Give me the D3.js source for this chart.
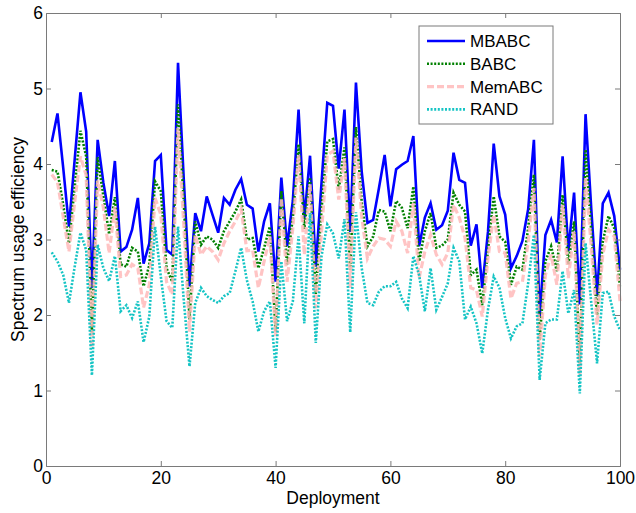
<!DOCTYPE html>
<html>
<head>
<meta charset="utf-8">
<script src="https://cdn.jsdelivr.net/npm/d3@7"></script>
<style>
  html, body { margin: 0; padding: 0; background: #fff; }
  svg text { font-family: "Liberation Sans", Arial, sans-serif; }
</style>
</head>
<body>
<svg id="chart" width="636" height="513"></svg>
<script>
// Spectrum usage efficiency per deployment for four algorithms
const deployments = d3.range(1, 101);

const mbabc = [4.29,4.67,3.95,3.17,4.06,4.95,4.43,2.36,4.32,3.75,
  3.31,4.04,2.84,2.90,3.13,3.55,2.68,2.95,4.04,4.12,
  2.86,2.80,5.34,3.8,2.38,3.35,3.11,3.57,3.33,3.09,
  3.55,3.46,3.66,3.80,3.46,3.41,2.84,3.24,3.48,2.44,
  3.82,2.91,3.51,4.72,3.27,4.11,2.64,3.75,4.81,4.77,
  3.94,4.72,3.1,5.08,3.9,3.22,3.26,3.68,4.12,3.44,
  3.93,3.99,4.04,4.37,2.91,3.29,3.48,3.13,3.19,3.38,
  4.15,3.79,3.75,2.92,3.2,2.36,3.1,4.27,3.57,3.33,
  2.62,2.78,2.98,3.40,4.32,1.98,3.06,3.26,2.96,4.10,
  2.85,3.62,2.14,4.66,3.4,2.25,3.48,3.62,3.31,2.60];

const babc = [3.92,3.90,3.46,2.95,3.7,4.44,4.10,1.77,4.09,3.57,
  3.07,3.56,2.67,2.64,2.89,2.84,2.38,2.66,3.77,3.64,
  2.62,2.44,4.79,3.5,1.94,3.24,2.93,3.04,3.0,2.89,
  3.11,3.24,3.37,3.53,3.0,3.02,2.62,2.89,3.17,1.78,
  3.64,2.67,3.29,4.26,3.14,3.82,2.28,3.4,4.30,4.33,
  3.66,4.22,2.6,4.49,3.5,2.91,3.04,3.39,3.37,3.11,
  3.51,3.42,3.15,3.70,2.71,3.11,3.35,2.89,2.92,3.0,
  3.62,3.46,3.37,2.53,2.60,2.13,2.86,3.57,3.04,2.97,
  2.40,2.64,2.60,3.15,3.86,1.67,2.71,2.91,2.58,3.59,
  2.67,3.24,1.36,4.19,3.1,2.0,2.97,3.31,3.15,2.36];

const memabc = [3.86,3.76,3.3,2.84,3.5,4.10,3.85,1.56,3.78,3.42,
  2.82,3.43,2.51,2.53,2.67,2.62,2.1,2.40,3.55,3.33,
  2.44,2.27,4.48,3.2,1.78,3.06,2.80,2.91,2.84,2.73,
  2.95,3.11,3.24,3.40,2.85,2.86,2.36,2.71,3.04,1.72,
  3.55,2.44,3.15,4.12,2.80,3.73,2.09,3.1,4.12,4.17,
  3.53,4.08,2.36,4.35,3.3,2.75,2.91,3.02,3.0,2.91,
  3.24,3.11,2.82,3.48,2.49,2.84,3.06,2.80,2.67,2.82,
  3.46,3.29,3.02,2.36,2.33,1.98,2.75,3.33,2.84,2.82,
  2.22,2.42,2.44,2.97,3.68,1.45,2.53,2.80,2.40,3.46,
  2.49,3.11,1.2,3.82,2.9,1.87,2.80,3.13,3.04,2.18];

const rand = [2.83,2.71,2.53,2.16,2.64,3.09,2.86,1.20,2.93,2.62,
  2.45,2.78,2.05,2.13,1.96,2.18,1.64,1.98,3.17,2.51,
  1.92,1.83,3.17,2.2,1.32,2.16,2.36,2.25,2.20,2.16,
  2.25,2.29,2.58,2.89,2.46,2.18,1.78,2.05,2.18,1.30,
  2.71,1.92,2.18,3.04,1.89,3.35,1.63,2.78,3.2,3.08,
  2.75,3.27,1.77,3.36,2.62,2.16,2.13,2.31,2.38,2.38,
  2.44,2.22,2.09,2.78,2.53,2.05,2.62,2.07,2.24,2.42,
  2.89,2.71,1.94,2.11,1.89,1.49,2.07,2.51,2.36,1.96,
  1.69,1.85,1.89,2.42,3.06,1.14,1.89,1.94,1.94,2.58,
  2.02,2.33,0.96,2.95,2.16,1.36,2.29,2.31,1.98,1.80];

const seriesNames = ["MBABC", "BABC", "MemABC", "RAND"];
const xTicks = [0, 20, 40, 60, 80, 100];
const yTicks = [0, 1, 2, 3, 4, 5, 6];

const styles = {
  MBABC:  { color: "#0000ff", width: 2.6, dash: null,    opacity: 1 },
  BABC:   { color: "#008000", width: 2.6, dash: "2,1.6", opacity: 1 },
  MemABC: { color: "#ffbaba", width: 3.2, dash: "7,3",   opacity: 0.85 },
  RAND:   { color: "#14c4c4", width: 2.6, dash: "2,1.6", opacity: 1 }
};

const seriesValues = { MBABC: mbabc, BABC: babc, MemABC: memabc, RAND: rand };

const margin = { left: 46, top: 13, right: 16, bottom: 47 };
const W = 636, H = 513;
const x = d3.scaleLinear().domain([0, 100]).range([margin.left, W - margin.right]);
const y = d3.scaleLinear().domain([0, 6]).range([H - margin.bottom, margin.top]);

const svg = d3.select("#chart");
const axisColor = "#7a7a7a";
const fontSize = "17.5px";

// plot lines
const line = d3.line().x((d, i) => x(deployments[i])).y(d => y(d));
const plot = svg.append("g");
seriesNames.forEach(name => {
  const s = styles[name];
  plot.append("path")
    .datum(seriesValues[name])
    .attr("fill", "none")
    .attr("stroke", s.color)
    .attr("stroke-width", s.width)
    .attr("stroke-opacity", s.opacity)
    .attr("stroke-linejoin", "miter")
    .attr("stroke-dasharray", s.dash)
    .attr("d", line);
});

// axes (ticks pointing inward, box around plot)
const x0 = x(0), x1 = x(100), y0 = y(0), y1 = y(6);
const tickLen = 5;

const bottomAxis = d3.axisBottom(x).tickValues(xTicks).tickSize(-tickLen).tickPadding(6).tickFormat(d3.format("d"));
const gb = svg.append("g").attr("transform", `translate(0,${y0})`).call(bottomAxis);
const topAxis = d3.axisTop(x).tickValues(xTicks).tickSize(-tickLen).tickFormat("");
const gt = svg.append("g").attr("transform", `translate(0,${y1})`).call(topAxis);
const leftAxis = d3.axisLeft(y).tickValues(yTicks).tickSize(-tickLen).tickPadding(3).tickFormat(d3.format("d"));
const gl = svg.append("g").attr("transform", `translate(${x0},0)`).call(leftAxis);
const rightAxis = d3.axisRight(y).tickValues(yTicks).tickSize(-tickLen).tickFormat("");
const gr = svg.append("g").attr("transform", `translate(${x1},0)`).call(rightAxis);

[gb, gt, gl, gr].forEach(g => {
  g.select(".domain").attr("stroke", axisColor).attr("stroke-width", 1);
  g.selectAll(".tick line").attr("stroke", axisColor).attr("stroke-width", 1);
  g.selectAll(".tick text")
    .attr("fill", "#000")
    .style("font-size", fontSize)
    .style("font-family", "'Liberation Sans', Arial, sans-serif");
});
// no tick marks at the box corners
gb.selectAll(".tick").filter(d => d === 0 || d === 100).select("line").remove();
gt.selectAll(".tick").filter(d => d === 0 || d === 100).select("line").remove();
gl.selectAll(".tick").filter(d => d === 0 || d === 6).select("line").remove();
gr.selectAll(".tick").filter(d => d === 0 || d === 6).select("line").remove();

// axis titles
svg.append("text")
  .attr("x", (x0 + x1) / 2)
  .attr("y", 504)
  .attr("text-anchor", "middle")
  .style("font-size", fontSize)
  .text("Deployment");

svg.append("text")
  .attr("transform", `translate(24,${(y0 + y1) / 2}) rotate(-90)`)
  .attr("text-anchor", "middle")
  .style("font-size", fontSize)
  .text("Spectrum usage efficiency");

// legend
const legend = svg.append("g").attr("transform", "translate(419,26)");
legend.append("rect")
  .attr("width", 134).attr("height", 98)
  .attr("fill", "#fff")
  .attr("stroke", axisColor).attr("stroke-width", 1);
seriesNames.forEach((name, i) => {
  const s = styles[name];
  const ly = 15 + i * 22.8;
  legend.append("line")
    .attr("x1", 8).attr("x2", 46)
    .attr("y1", ly).attr("y2", ly)
    .attr("stroke", s.color)
    .attr("stroke-width", s.width)
    .attr("stroke-opacity", s.opacity)
    .attr("stroke-dasharray", s.dash);
  legend.append("text")
    .attr("x", 51).attr("y", ly + 6)
    .style("font-size", "17px")
    .text(name);
});
</script>
</body>
</html>
